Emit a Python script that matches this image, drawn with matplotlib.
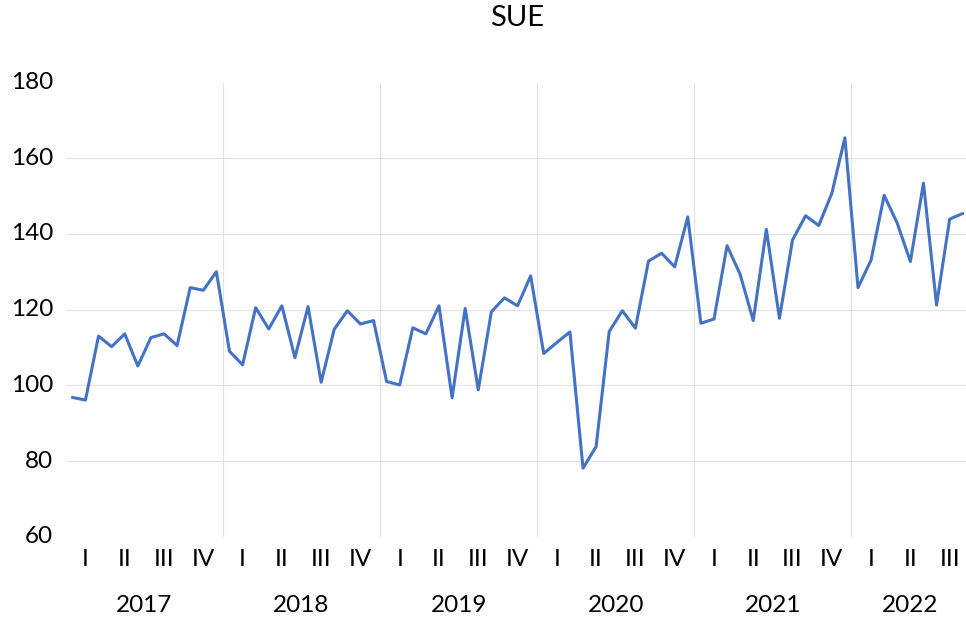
import matplotlib
matplotlib.use("Agg")
import matplotlib.pyplot as plt
from matplotlib.transforms import blended_transform_factory, ScaledTranslation

# ---- data ----
title = "SUE"
years = ["2017", "2018", "2019", "2020", "2021", "2022"]
quarters = ["I", "II", "III", "IV"]
v2017 = [96.8, 96.1, 113.0, 110.2, 113.6, 105.1, 112.6, 113.6, 110.5, 125.8, 125.1, 130.0]
v2018 = [109.0, 105.4, 120.5, 114.9, 121.0, 107.3, 120.8, 100.8, 114.8, 119.7, 116.2, 117.1]
v2019 = [101.0, 100.1, 115.2, 113.6, 121.0, 96.7, 120.3, 98.8, 119.4, 123.1, 121.0, 128.9]
v2020 = [108.4, 111.3, 114.1, 78.1, 83.8, 114.2, 119.7, 115.1, 132.8, 134.9, 131.3, 144.5]
v2021 = [116.4, 117.5, 136.9, 129.3, 117.1, 141.2, 117.7, 138.4, 144.8, 142.2, 150.7, 165.4]
v2022 = [125.8, 133.1, 150.2, 142.8, 132.7, 153.4, 121.2, 143.9, 145.4]
yticks = [60, 80, 100, 120, 140, 160, 180]

series_by_year = [v2017, v2018, v2019, v2020, v2021, v2022]
values = [v for ys in series_by_year for v in ys]
x = list(range(len(values)))

plt.rcParams['font.family'] = ['Lato', 'DejaVu Sans']
FS = 17.5
W, H = 966, 626
fig = plt.figure(figsize=(W / 100, H / 100), dpi=100)

left_px, right_px = 65.8, 969.3
top_px, bot_px = 82.5, 536.7
ax = fig.add_axes([left_px / W, 1 - bot_px / H, (right_px - left_px) / W, (bot_px - top_px) / H])

ax.plot(x, values, color='#4472C4', lw=2.2, solid_joinstyle='round', solid_capstyle='round', zorder=3)

ax.set_xlim(-0.5, len(values) - 0.5)
ax.set_ylim(yticks[0], yticks[-1])

# gridlines: interior horizontals and year separators
grid_c = '#e3e3e3'
for yv in yticks[1:-1]:
    ax.axhline(yv, color=grid_c, lw=0.8, zorder=1)
pos = 0
for ys in series_by_year[:-1]:
    pos += len(ys)
    ax.axvline(pos - 0.5, color=grid_c, lw=0.8, zorder=1)

for s in ax.spines.values():
    s.set_visible(False)
ax.set_yticks(yticks)
ax.set_yticklabels([str(t) for t in yticks], fontsize=FS)
ax.tick_params(axis='y', length=0, pad=9)
ax.set_xticks([])
off = ScaledTranslation(0, 0.02, fig.dpi_scale_trans)
for lbl in ax.get_yticklabels():
    lbl.set_transform(lbl.get_transform() + off)

# category labels
tr = blended_transform_factory(ax.transData, ax.transAxes)
qy = -(559 - bot_px) / (bot_px - top_px)
yy = -(606 - bot_px) / (bot_px - top_px)
start = 0
for yr, ys in zip(years, series_by_year):
    n = len(ys)
    for q in range(n // 3):
        ax.text(start + 3 * q + 1, qy, quarters[q], transform=tr, ha='center', va='center', fontsize=FS)
    ax.text(start + (n - 1) / 2, yy, yr, transform=tr, ha='center', va='center', fontsize=FS)
    start += n

fig.text(516.7 / W, 1 - 18 / H, title, ha='center', va='center', fontsize=21)

fig.savefig("out.png", dpi=100)
